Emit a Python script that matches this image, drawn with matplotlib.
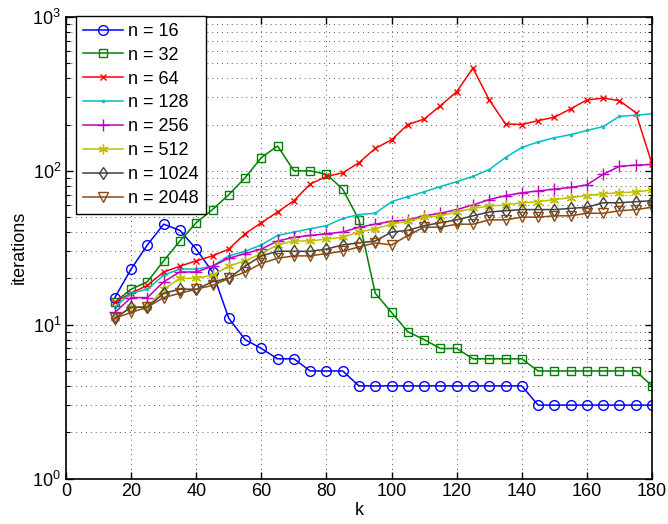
import matplotlib
matplotlib.use("Agg")
import matplotlib.pyplot as plt
from matplotlib.ticker import LogLocator, NullFormatter, MultipleLocator

plt.rcParams['font.family'] = ['Liberation Sans', 'DejaVu Sans']
plt.rcParams['mathtext.fontset'] = 'custom'
plt.rcParams['mathtext.rm'] = 'Liberation Sans'
plt.rcParams['mathtext.it'] = 'Liberation Sans'
plt.rcParams['mathtext.default'] = 'regular'

k = list(range(15, 181, 5))
n16 = [15, 23, 33, 45, 41, 31, 22, 11, 8, 7, 6, 6, 5, 5, 5,
       4, 4, 4, 4, 4, 4, 4, 4, 4, 4, 4, 3, 3, 3, 3, 3, 3, 3, 3]
n32 = [14, 17, 19, 26, 35, 46, 56, 70, 90, 122, 145, 100, 100, 95, 76, 48,
       16, 12, 9, 8, 7, 7, 6, 6, 6, 6, 5, 5, 5, 5, 5, 5, 5, 4]
n64 = [14, 16, 18, 22, 24, 26, 28, 31, 39, 46, 54, 64, 82, 92, 97, 113, 140,
       159, 200, 217, 265, 327, 465, 289, 202, 200, 212, 223, 253, 289, 297,
       286, 239, 111]
n128 = [13, 16, 17, 21, 23, 23, 24, 28, 30, 33, 38, 40, 42, 44, 49, 52, 53,
        63, 68, 73, 79, 85, 92, 102, 122, 142, 154, 164, 172, 183, 194, 226,
        230, 235]
n256 = [12, 15, 15, 19, 22, 22, 24, 27, 29, 31, 35, 37, 38, 39, 40, 43, 45,
        47, 48, 51, 53, 56, 60, 65, 69, 72, 74, 76, 78, 81, 95, 107, 109, 110]
n512 = [11, 13, 13, 17, 20, 20, 21, 24, 26, 29, 33, 35, 35, 36, 37, 40, 42,
        45, 47, 50, 51, 54, 57, 59, 60, 62, 63, 65, 67, 69, 71, 72, 73, 75]
n1024 = [11, 13, 13, 16, 17, 17, 19, 20, 24, 28, 30, 30, 30, 31, 33, 34, 35,
         40, 41, 44, 46, 48, 51, 54, 55, 56, 56, 56, 57, 58, 62, 62, 63, 64]
n2048 = [11, 12, 13, 15, 16, 17, 18, 20, 22, 25, 27, 28, 28, 29, 30, 32, 34,
         33, 38, 43, 43, 45, 45, 48, 48, 50, 50, 51, 51, 53, 53, 55, 56, 58]
labels = ['n = 16', 'n = 32', 'n = 64', 'n = 128', 'n = 256', 'n = 512',
          'n = 1024', 'n = 2048']

series = [n16, n32, n64, n128, n256, n512, n1024, n2048]
colors = ['#0000FF', '#008000', '#FF0000', '#00BFBF', '#BF00BF', '#BFBF00',
          '#404040', '#8B4A14']
markers = ['o', 's', 'x', '.', '+', (6, 2, 0), 'd', 'v']
msizes = [7, 6, 5, 3, 8, 7, 6, 7]

fig = plt.figure(figsize=(6.68, 5.24), dpi=100)
ax = fig.add_axes([66/668, (524-478.5)/524, 586/668, 461.5/524])

for ys, c, m, ms, lab in zip(series, colors, markers, msizes, labels):
    ax.plot(k, ys, color=c, marker=m, markersize=ms, markerfacecolor='none',
            markeredgecolor=c, markeredgewidth=1.0, linewidth=1.1, label=lab)

ax.set_yscale('log')
ax.set_xlim(0, 180)
ax.set_ylim(1, 1000)
ax.xaxis.set_major_locator(MultipleLocator(20))
ax.yaxis.set_major_locator(LogLocator(base=10, numticks=10))
ax.yaxis.set_minor_locator(LogLocator(base=10, subs=range(2, 10), numticks=20))
ax.yaxis.set_minor_formatter(NullFormatter())

grid_kw = dict(color='#555555', linestyle=(0, (1, 4)), linewidth=0.7)
ax.grid(True, which='major', axis='both', **grid_kw)
ax.grid(True, which='minor', axis='y', **grid_kw)
ax.set_axisbelow(True)

ax.tick_params(which='both', direction='in', top=True, right=True,
               labelsize=13, colors='black')
ax.tick_params(which='major', length=5, width=1)
ax.tick_params(which='minor', length=3, width=0.8)
for s in ax.spines.values():
    s.set_linewidth(1.2)
    s.set_color('black')

ax.set_xlabel('k', fontsize=13, labelpad=1)
ax.set_ylabel('iterations', fontsize=13, labelpad=3)

leg = ax.legend(loc='upper left', fontsize=13, frameon=True, fancybox=False,
                edgecolor='black', framealpha=1, borderaxespad=0.0,
                handlelength=2.2, labelspacing=0.38, borderpad=0.4,
                handletextpad=0.3, bbox_to_anchor=(0.017, 1.003))
leg.get_frame().set_linewidth(1.0)

fig.savefig('out.png', dpi=100)
